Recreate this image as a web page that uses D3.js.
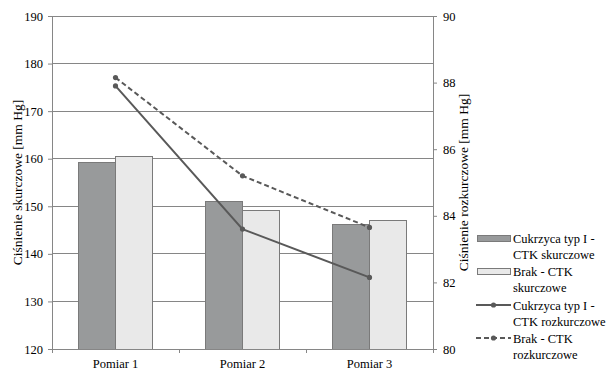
<!DOCTYPE html>
<html><head><meta charset="utf-8">
<script src="https://cdn.jsdelivr.net/npm/d3@7"></script>
<style>body{margin:0;background:#fff}svg{display:block}</style>
</head><body><svg id="c" width="612" height="382"></svg>
<script>
const categories = ["Pomiar 1", "Pomiar 2", "Pomiar 3"];
const barSeriesNames = ["Cukrzyca typ I - CTK skurczowe", "Brak - CTK skurczowe"];
const barDiabetes = [159.3, 151.1, 146.1];
const barNone = [160.4, 149.2, 147.1];
const lineDiabetes = [87.9, 83.6, 82.15];
const lineNone = [88.15, 85.2, 83.65];
const leftTicks = [120, 130, 140, 150, 160, 170, 180, 190];
const rightTicks = [80, 82, 84, 86, 88, 90];

const FONT = "Liberation Serif";
const svg = d3.select("#c");
const L = 52, R = 433, T = 16, B = 349;
const x0 = d3.scaleBand().domain(categories).range([L, R]).paddingInner(0).paddingOuter(0);
const yL = d3.scaleLinear().domain([120, 190]).range([B, T]);
const yR = d3.scaleLinear().domain([80, 90]).range([B, T]);
const grid = "#868686";

// gridlines
svg.append("g").selectAll("line").data(leftTicks.slice(1)).join("line")
  .attr("x1", L).attr("x2", R).attr("y1", d => yL(d)).attr("y2", d => yL(d))
  .attr("stroke", grid).attr("stroke-width", 1).attr("shape-rendering", "crispEdges");

// bars
const bw = x0.bandwidth();
const barW = bw * 0.2875;
const colors = ["#989a9b", "#e9e9e9"];
const series = [barDiabetes, barNone];
series.forEach((vals, si) => {
  svg.append("g").selectAll("rect").data(vals).join("rect")
    .attr("x", (d, i) => x0(categories[i]) + bw / 2 - barW + si * barW)
    .attr("y", d => yL(d))
    .attr("width", barW)
    .attr("height", d => B - yL(d))
    .attr("fill", colors[si]).attr("stroke", "#7a7a7a").attr("stroke-width", 1)
    .attr("shape-rendering", "crispEdges");
});

// axes
const axL = d3.axisLeft(yL).tickValues(leftTicks).tickSize(4).tickPadding(5);
const gL = svg.append("g").attr("transform", `translate(${L},0)`).call(axL);
const axR = d3.axisRight(yR).tickValues(rightTicks).tickSize(4).tickPadding(6);
const gR = svg.append("g").attr("transform", `translate(${R},0)`).call(axR);
const axB = d3.axisBottom(x0).tickSize(0).tickPadding(10);
const gB = svg.append("g").attr("transform", `translate(0,${B})`).call(axB);
[gL, gR, gB].forEach(g => {
  g.attr("font-family", FONT).attr("font-size", 12.5);
  g.selectAll("path.domain").attr("stroke", grid);
  g.selectAll("line").attr("stroke", grid);
  g.selectAll("text").attr("font-family", FONT).attr("font-size", 12.5).attr("fill", "#000");
});
// category boundary ticks
svg.append("g").selectAll("line").data(categories.concat(["end"])).join("line")
  .attr("x1", (d, i) => L + i * bw).attr("x2", (d, i) => L + i * bw)
  .attr("y1", B).attr("y2", B + 4).attr("stroke", grid).attr("shape-rendering", "crispEdges");

// axis titles
svg.append("text").attr("transform", `translate(22,${(T + B) / 2}) rotate(-90)`)
  .attr("text-anchor", "middle").attr("font-family", FONT).attr("font-size", 13.5).text("Ciśnienie skurczowe [mm Hg]");
svg.append("text").attr("transform", `translate(468,${(T + B) / 2}) rotate(-90)`)
  .attr("text-anchor", "middle").attr("font-family", FONT).attr("font-size", 13.5).text("Ciśnienie rozkurczowe [mm Hg]");

// lines
const lineColor = "#595959";
const lineGen = d3.line().x((d, i) => x0(categories[i]) + bw / 2).y(d => yR(d));
[[lineDiabetes, null], [lineNone, "5,3"]].forEach(([vals, dash]) => {
  svg.append("path").datum(vals).attr("d", lineGen).attr("fill", "none")
    .attr("stroke", lineColor).attr("stroke-width", 2).attr("stroke-dasharray", dash);
  svg.append("g").selectAll("circle").data(vals).join("circle")
    .attr("cx", (d, i) => x0(categories[i]) + bw / 2).attr("cy", d => yR(d)).attr("r", 2.6)
    .attr("fill", lineColor);
});

// legend
const legend = [
  {type: "bar", color: colors[0], lines: ["Cukrzyca typ I -", "CTK skurczowe"], y: 239},
  {type: "bar", color: colors[1], lines: ["Brak - CTK", "skurczowe"], y: 272},
  {type: "line", dash: null, lines: ["Cukrzyca typ I -", "CTK rozkurczowe"], y: 306},
  {type: "line", dash: "5,3", lines: ["Brak - CTK", "rozkurczowe"], y: 339}
];
const lg = svg.append("g");
legend.forEach(e => {
  if (e.type === "bar") {
    lg.append("rect").attr("x", 477).attr("y", e.y - 4).attr("width", 33).attr("height", 6)
      .attr("fill", e.color).attr("stroke", "#7a7a7a").attr("shape-rendering", "crispEdges");
  } else {
    lg.append("line").attr("x1", 476).attr("x2", 511).attr("y1", e.y - 1).attr("y2", e.y - 1)
      .attr("stroke", lineColor).attr("stroke-width", 2).attr("stroke-dasharray", e.dash);
    lg.append("circle").attr("cx", 493.5).attr("cy", e.y - 1).attr("r", 2.6).attr("fill", lineColor);
  }
  e.lines.forEach((t, k) => {
    lg.append("text").attr("x", 513).attr("y", e.y + 4 + k * 15.5)
      .attr("font-family", FONT).attr("font-size", 12.5).text(t);
  });
});
</script></body></html>
